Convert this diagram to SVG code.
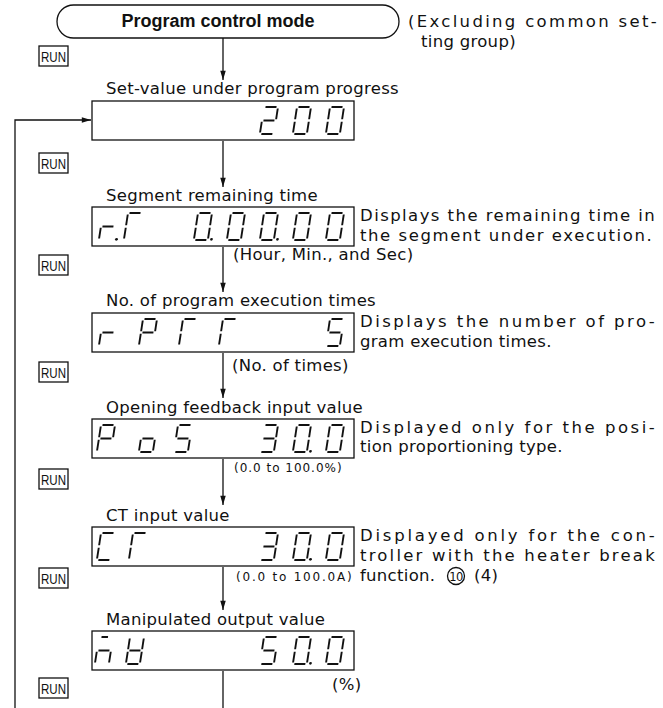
<svg xmlns="http://www.w3.org/2000/svg" width="663" height="708" viewBox="0 0 663 708">
<style>
.t{font-family:"DejaVu Sans","Liberation Sans",sans-serif;font-size:16.5px;fill:#111;letter-spacing:0.3px}
.s{font-size:12px;letter-spacing:0.4px}
.b{font-family:"Liberation Sans",Arial,sans-serif;font-weight:bold;font-size:18px;text-anchor:middle;letter-spacing:0}
.run rect{fill:#fff;stroke:#111;stroke-width:1.3}
.run text{font-family:"Liberation Sans",Arial,sans-serif;font-size:15px;fill:#111;text-anchor:middle}
.box{fill:#fff;stroke:#111;stroke-width:1.3}
.conn line,.conn polyline{fill:none;stroke:#111;stroke-width:1.3}
.circ{fill:none;stroke:#111;stroke-width:1.3}
</style>
<defs>
<marker id="ah" viewBox="0 0 10 6" refX="10" refY="3" markerWidth="10" markerHeight="5.5" markerUnits="userSpaceOnUse" orient="auto"><path d="M0,0 L10,3 L0,6 z" fill="#111"/></marker>
<line id="sa" x1="1.5" y1="0" x2="12.5" y2="0"/>
<line id="sb" x1="14" y1="1.5" x2="14" y2="12.3"/>
<line id="sc" x1="14" y1="14.7" x2="14" y2="25.5"/>
<line id="sd" x1="1.5" y1="27" x2="12.5" y2="27"/>
<line id="se" x1="0" y1="14.7" x2="0" y2="25.5"/>
<line id="sf" x1="0" y1="1.5" x2="0" y2="12.3"/>
<line id="sg" x1="1.5" y1="13.5" x2="12.5" y2="13.5"/>
<circle id="dp" cx="17.5" cy="26.3" r="1.4" fill="#111" stroke="none"/>
<g id="g0"><use href="#sa"/><use href="#sb"/><use href="#sc"/><use href="#sd"/><use href="#se"/><use href="#sf"/></g>
<g id="g2"><use href="#sa"/><use href="#sb"/><use href="#sg"/><use href="#se"/><use href="#sd"/></g>
<g id="g3"><use href="#sa"/><use href="#sb"/><use href="#sg"/><use href="#sc"/><use href="#sd"/></g>
<g id="g5"><use href="#sa"/><use href="#sf"/><use href="#sg"/><use href="#sc"/><use href="#sd"/></g>
<g id="gP"><use href="#sa"/><use href="#sb"/><use href="#sf"/><use href="#sg"/><use href="#se"/></g>
<g id="go"><use href="#sg"/><use href="#sc"/><use href="#sd"/><use href="#se"/></g>
<g id="gr"><use href="#sg"/><use href="#se"/></g>
<g id="gT"><use href="#sa"/><use href="#sf"/><use href="#se"/></g>
<g id="gC"><use href="#sa"/><use href="#sf"/><use href="#se"/><use href="#sd"/></g>
<g id="gn"><use href="#sg"/><use href="#se"/><use href="#sc"/><line x1="2.5" y1="0" x2="9" y2="0"/></g>
<g id="gU"><use href="#sf"/><use href="#sb"/><use href="#sg"/><use href="#se"/><use href="#sc"/><use href="#sd"/></g>
</defs>

<g id="mode">
<rect class="box" x="57" y="5" width="342" height="33" rx="16.5"/>
<text class="t b" x="218" y="27">Program control mode</text>
<text class="t" x="408" y="27" textLength="249" lengthAdjust="spacing">(Excluding common set-</text>
<text class="t" x="421" y="47">ting group)</text>
</g>

<g id="connectors" class="conn">
<line x1="223" y1="38" x2="223" y2="80" marker-end="url(#ah)"/>
<line x1="223" y1="141" x2="223" y2="187" marker-end="url(#ah)"/>
<line x1="223" y1="247" x2="223" y2="292" marker-end="url(#ah)"/>
<line x1="223" y1="353" x2="223" y2="398" marker-end="url(#ah)"/>
<line x1="223" y1="459" x2="223" y2="505" marker-end="url(#ah)"/>
<line x1="223" y1="567" x2="223" y2="610" marker-end="url(#ah)"/>
<line x1="223" y1="671" x2="223" y2="708"/>
<polyline points="15,708 15,120 91,120" marker-end="url(#ah)"/>
</g>

<g id="run-keys" class="run">
<g id="run1"><rect x="39" y="46" width="29" height="20"/><text x="53.5" y="61.5" textLength="25" lengthAdjust="spacingAndGlyphs">RUN</text></g>
<g id="run2"><rect x="39" y="153" width="29" height="20"/><text x="53.5" y="168.5" textLength="25" lengthAdjust="spacingAndGlyphs">RUN</text></g>
<g id="run3"><rect x="39" y="255" width="29" height="20"/><text x="53.5" y="270.5" textLength="25" lengthAdjust="spacingAndGlyphs">RUN</text></g>
<g id="run4"><rect x="39" y="362" width="29" height="20"/><text x="53.5" y="377.5" textLength="25" lengthAdjust="spacingAndGlyphs">RUN</text></g>
<g id="run5"><rect x="39" y="469" width="29" height="20"/><text x="53.5" y="484.5" textLength="25" lengthAdjust="spacingAndGlyphs">RUN</text></g>
<g id="run6"><rect x="39" y="568" width="29" height="20"/><text x="53.5" y="583.5" textLength="25" lengthAdjust="spacingAndGlyphs">RUN</text></g>
<g id="run7"><rect x="39" y="678" width="29" height="20"/><text x="53.5" y="693.5" textLength="25" lengthAdjust="spacingAndGlyphs">RUN</text></g>
</g>

<g id="node-setvalue">
<text class="t" x="106" y="94">Set-value under program progress</text>
<rect class="box" x="92" y="101" width="262" height="39"/>
<g stroke="#111" stroke-width="1.9">
<use href="#g2" transform="translate(264,107) skewX(-8.7)"/>
<use href="#g0" transform="translate(297,107) skewX(-8.7)"/>
<use href="#g0" transform="translate(330,107) skewX(-8.7)"/>
</g>
</g>

<g id="node-remaining">
<text class="t" x="106" y="201">Segment remaining time</text>
<rect class="box" x="92" y="207" width="262" height="39"/>
<g stroke="#111" stroke-width="1.9">
<use href="#gr" transform="translate(103,213) skewX(-8.7)"/>
<use href="#dp" transform="translate(103,213) skewX(-8.7)"/>
<use href="#gT" transform="translate(128,213) skewX(-8.7)"/>
<use href="#g0" transform="translate(198,213) skewX(-8.7)"/>
<use href="#dp" transform="translate(198,213) skewX(-8.7)"/>
<use href="#g0" transform="translate(231,213) skewX(-8.7)"/>
<use href="#g0" transform="translate(264,213) skewX(-8.7)"/>
<use href="#dp" transform="translate(264,213) skewX(-8.7)"/>
<use href="#g0" transform="translate(297,213) skewX(-8.7)"/>
<use href="#g0" transform="translate(330,213) skewX(-8.7)"/>
</g>
<text class="t" x="360" y="221" textLength="295" lengthAdjust="spacing">Displays the remaining time in</text>
<text class="t" x="360" y="241" textLength="292" lengthAdjust="spacing">the segment under execution.</text>
<text class="t" x="233" y="260">(Hour, Min., and Sec)</text>
</g>

<g id="node-exec-times">
<text class="t" x="106" y="306">No. of program execution times</text>
<rect class="box" x="92" y="313" width="262" height="39"/>
<g stroke="#111" stroke-width="1.9">
<use href="#gr" transform="translate(103,319) skewX(-8.7)"/>
<use href="#gP" transform="translate(143,319) skewX(-8.7)"/>
<use href="#gT" transform="translate(183,319) skewX(-8.7)"/>
<use href="#gT" transform="translate(223,319) skewX(-8.7)"/>
<use href="#g5" transform="translate(330,319) skewX(-8.7)"/>
</g>
<text class="t" x="360" y="327" textLength="295" lengthAdjust="spacing">Displays the number of pro-</text>
<text class="t" x="360" y="347">gram execution times.</text>
<text class="t" x="232" y="371">(No. of times)</text>
</g>

<g id="node-feedback">
<text class="t" x="106" y="413">Opening feedback input value</text>
<rect class="box" x="92" y="419" width="262" height="39"/>
<g stroke="#111" stroke-width="1.9">
<use href="#gP" transform="translate(101,425) skewX(-8.7)"/>
<use href="#go" transform="translate(143,425) skewX(-8.7)"/>
<use href="#g5" transform="translate(178,425) skewX(-8.7)"/>
<use href="#g3" transform="translate(264,425) skewX(-8.7)"/>
<use href="#g0" transform="translate(297,425) skewX(-8.7)"/>
<use href="#dp" transform="translate(297,425) skewX(-8.7)"/>
<use href="#g0" transform="translate(330,425) skewX(-8.7)"/>
</g>
<text class="t" x="360" y="433" textLength="295" lengthAdjust="spacing">Displayed only for the posi-</text>
<text class="t" x="360" y="452">tion proportioning type.</text>
<text class="t s" x="234" y="472" textLength="108" lengthAdjust="spacing">(0.0 to 100.0%)</text>
</g>

<g id="node-ct">
<text class="t" x="106" y="521">CT input value</text>
<rect class="box" x="92" y="527" width="262" height="39"/>
<g stroke="#111" stroke-width="1.9">
<use href="#gC" transform="translate(101,533) skewX(-8.7)"/>
<use href="#gT" transform="translate(133,533) skewX(-8.7)"/>
<use href="#g3" transform="translate(264,533) skewX(-8.7)"/>
<use href="#g0" transform="translate(297,533) skewX(-8.7)"/>
<use href="#dp" transform="translate(297,533) skewX(-8.7)"/>
<use href="#g0" transform="translate(330,533) skewX(-8.7)"/>
</g>
<text class="t" x="360" y="541" textLength="295" lengthAdjust="spacing">Displayed only for the con-</text>
<text class="t" x="360" y="561" textLength="295" lengthAdjust="spacing">troller with the heater break</text>
<text class="t s" x="236" y="581" textLength="116" lengthAdjust="spacing">(0.0 to 100.0A)</text>
<text class="t" x="360" y="581">function.</text>
<circle class="circ" cx="456" cy="576" r="8.5"/>
<text class="t" x="456" y="580.5" style="font-size:11.5px;letter-spacing:-0.5px;text-anchor:middle">10</text>
<text class="t" x="474" y="581">(4)</text>
</g>

<g id="node-output">
<text class="t" x="106" y="625">Manipulated output value</text>
<rect class="box" x="92" y="631" width="262" height="39"/>
<g stroke="#111" stroke-width="1.9">
<use href="#gn" transform="translate(99,637) skewX(-8.7)"/>
<use href="#gU" transform="translate(130,637) skewX(-8.7)"/>
<use href="#g5" transform="translate(264,637) skewX(-8.7)"/>
<use href="#g0" transform="translate(297,637) skewX(-8.7)"/>
<use href="#dp" transform="translate(297,637) skewX(-8.7)"/>
<use href="#g0" transform="translate(330,637) skewX(-8.7)"/>
</g>
<text class="t" x="332" y="690">(%)</text>
</g>
</svg>
